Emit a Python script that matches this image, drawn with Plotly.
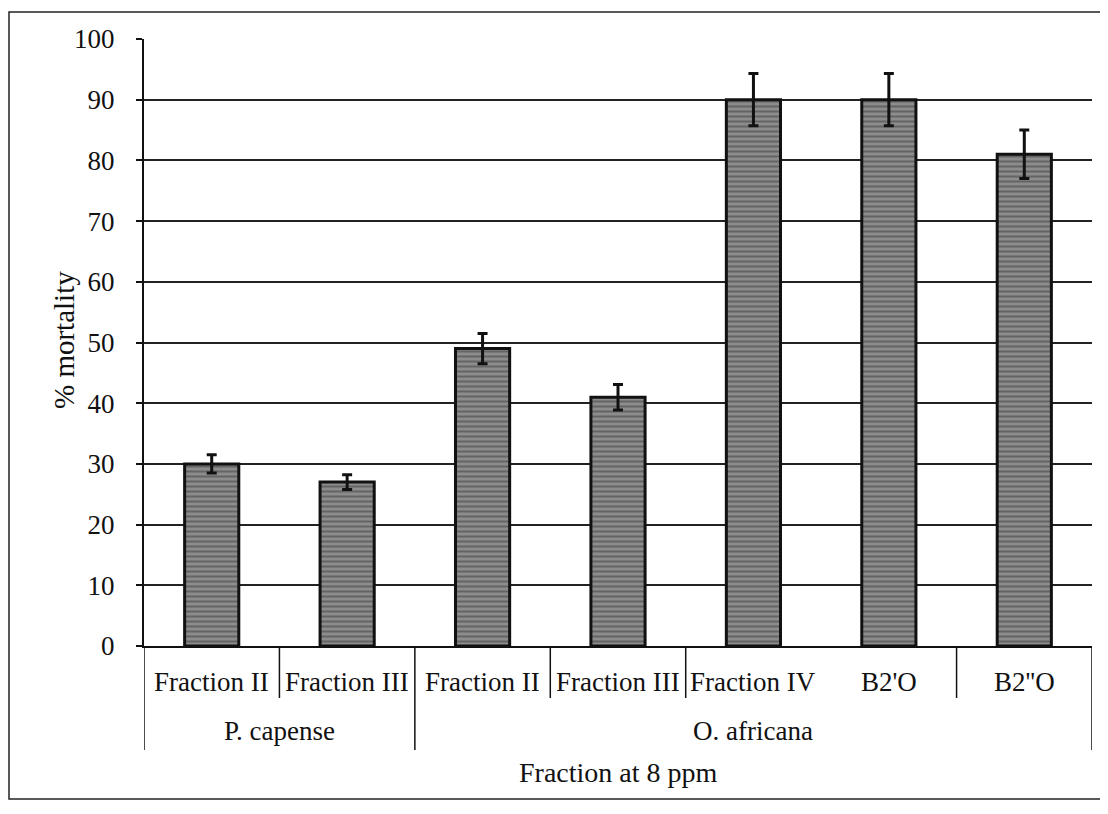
import plotly.graph_objects as go

# ---- data ----
groups = ["P. capense", "P. capense", "O. africana", "O. africana", "O. africana", "O. africana", "O. africana"]
fractions = ["Fraction II", "Fraction III", "Fraction II", "Fraction III", "Fraction IV", "B2'O", "B2''O"]
mortality = [30, 27, 49, 41, 90, 90, 81]
errors = [1.5, 1.2, 2.5, 2.1, 4.3, 4.3, 4.0]
y_ticks = [0, 10, 20, 30, 40, 50, 60, 70, 80, 90, 100]
x_title = "Fraction at 8 ppm"
y_title = "% mortality"

FONT = "Liberation Serif, Times New Roman, serif"
positions = list(range(len(fractions)))

fig = go.Figure()
fig.add_trace(go.Bar(
    x=positions, y=mortality, width=0.4,
    marker=dict(color="#7e7e7e", line=dict(color="#111111", width=3),
                pattern=dict(shape="-", fgcolor="#3c3c3c", bgcolor="#8c8c8c", size=5, solidity=0.4)),
    error_y=dict(type="data", array=errors, visible=True, color="#111111", thickness=3, width=5),
    showlegend=False,
))

# page has an 8px body margin: figure is offset by OFF pixels
OFF = 8
W, H = 1100, 806
L, T = 144 - OFF, 39 - OFF
R = W - (1092 - OFF)
B = H - (646 - OFF)
pw, ph = W - L - R, H - T - B
def py(p):  # page pixel y -> paper y
    return (H - B - (p - OFF)) / ph
def px(p):  # page pixel x -> paper x
    return ((p - OFF) - L) / pw

shapes = []
line = dict(color="#111111", width=1.5)
# row-1 separators (as in the reference)
for b in [0.5, 2.5, 3.5, 5.5]:
    shapes.append(dict(type="line", xref="x", yref="paper", x0=b, x1=b, y0=0, y1=py(698), line=line))
# group separators
grp_bounds = [-0.5]
for i in range(1, len(groups)):
    if groups[i] != groups[i - 1]:
        grp_bounds.append(i - 0.5)
grp_bounds.append(len(groups) - 0.5)
for b in grp_bounds:
    shapes.append(dict(type="line", xref="x", yref="paper", x0=b, x1=b, y0=0, y1=py(750), line=line))
# outer frame
shapes.append(dict(type="rect", xref="paper", yref="paper", x0=px(9), x1=px(1103), y0=py(799), y1=py(12),
                   line=dict(color="#222222", width=1.5)))

annotations = []
for i, f in enumerate(fractions):
    annotations.append(dict(x=i, y=py(682), xref="x", yref="paper", text=f, showarrow=False,
                            font=dict(family=FONT, size=27, color="#111111"), xanchor="center", yanchor="middle"))
for j in range(len(grp_bounds) - 1):
    a, b = grp_bounds[j], grp_bounds[j + 1]
    name = groups[int(a + 0.5)]
    annotations.append(dict(x=(a + b) / 2, y=py(731), xref="x", yref="paper", text=name, showarrow=False,
                            font=dict(family=FONT, size=27, color="#111111"), xanchor="center", yanchor="middle"))
annotations.append(dict(x=0.5, y=py(772), xref="paper", yref="paper", text=x_title, showarrow=False,
                        font=dict(family=FONT, size=28, color="#111111"), xanchor="center", yanchor="middle"))
annotations.append(dict(x=px(64), y=py(340), xref="paper", yref="paper", text=y_title, showarrow=False,
                        textangle=-90, font=dict(family=FONT, size=29, color="#111111"),
                        xanchor="center", yanchor="middle"))

fig.update_layout(
    width=W, height=H,
    margin=dict(l=L, r=R, t=T, b=B),
    plot_bgcolor="white", paper_bgcolor="white",
    font=dict(family=FONT, color="#111111"),
    shapes=shapes, annotations=annotations,
)
fig.update_xaxes(range=[-0.5, len(fractions) - 0.5], showticklabels=False, showgrid=False, zeroline=False,
                 showline=True, linecolor="#111111", linewidth=2, ticks="")
fig.update_yaxes(range=[0, 100], tickvals=y_ticks, showgrid=True, gridcolor="#222222", gridwidth=1.5,
                 zeroline=False, showline=True, linecolor="#111111", linewidth=2,
                 ticks="outside", ticklen=6, tickcolor="#111111", tickwidth=1.5,
                 tickfont=dict(family=FONT, size=27, color="#111111"), ticklabelstandoff=16)

fig.write_html("out.html")
